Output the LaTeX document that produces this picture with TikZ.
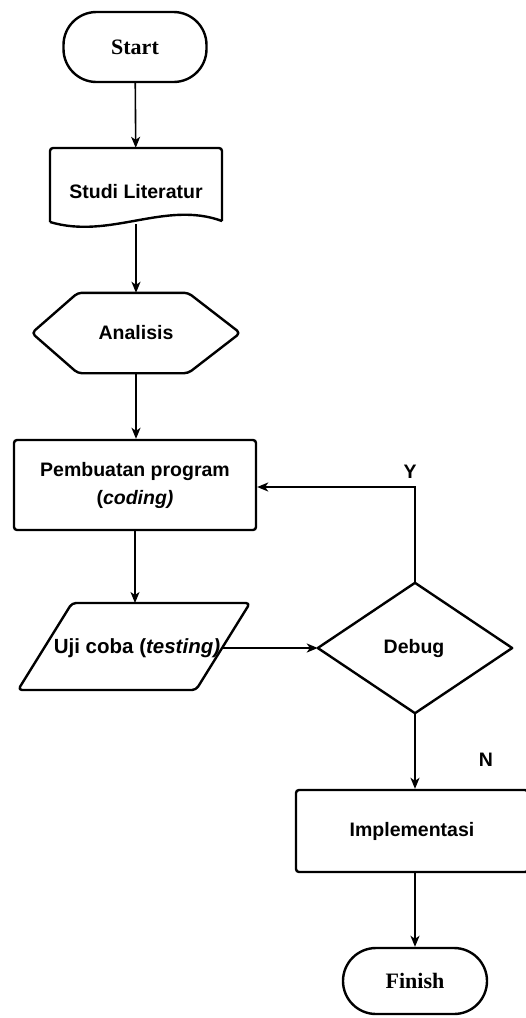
\documentclass[tikz,border=0pt]{standalone}
\usepackage{fontspec}
\setmainfont{Liberation Sans}
\newfontfamily\serifbold{Liberation Serif}
\usetikzlibrary{arrows.meta}
\begin{document}
\begin{tikzpicture}[x=1pt,y=-1pt,
  lbl/.style={font=\fontsize{19.5}{23}\selectfont\bfseries, align=center, inner sep=1pt},
  term/.style={draw, line width=2.4pt, rounded corners=33pt, font=\serifbold\fontsize{22}{24}\selectfont\bfseries, inner sep=0},
  outline/.style={line width=2.4pt, line join=round},
  box/.style={draw, line width=2.4pt, rounded corners=3pt, inner sep=0, align=center, font=\fontsize{19.5}{28}\selectfont\bfseries},
  arr/.style={line width=1.6pt, -{Stealth[length=11pt,width=9pt,inset=3pt]}}]
\useasboundingbox (0,0) rectangle (526,1018);
\fill[white] (0,0) rectangle (526,1018);

% Start
\node[term, minimum width=143pt, minimum height=70pt] (start) at (135,47) {Start};

% Studi Literatur (document shape)
\node[lbl, minimum width=172pt, minimum height=76pt] (studi) at (136,186) {};
\node[lbl] at (136,192) {Studi Literatur};
\draw[outline, rounded corners=3pt] (50,222) -- (50,148) -- (222,148) -- (222,221);
\draw[outline] (222,221) .. controls (165,200) and (110,240) .. (50,222);

% Analisis (hexagon)
\node[lbl, minimum width=208pt, minimum height=80pt] (ana) at (136,333) {Analisis};
\draw[outline, rounded corners=4pt] (ana.west) -- ([xshift=46pt]ana.north west) -- ([xshift=-52pt]ana.north east) -- (ana.east) -- ([xshift=-52pt]ana.south east) -- ([xshift=46pt]ana.south west) -- cycle;

% Pembuatan program
\node[box, minimum width=242pt, minimum height=90pt] (pemb) at (135,485) {Pembuatan program\\(\textit{coding)}};

% Uji coba (parallelogram)
\draw[outline, rounded corners=4pt] (18,690) -- (72,603) -- (250,603) -- (196,690) -- cycle;
\node[lbl, font=\fontsize{20.5}{23}\selectfont\bfseries] (uji) at (137,648) {Uji coba (\textit{testing)}};

% Debug (diamond)
\node[lbl, minimum width=194pt, minimum height=130pt] (debug) at (415,648) {};
\draw[outline] (debug.west) -- (debug.north) -- (debug.east) -- (debug.south) -- cycle;
\node[lbl] at (414,648) {Debug};

% Implementasi
\node[box, minimum width=232pt, minimum height=82pt] (impl) at (412,831) {Implementasi};

% Finish
\node[term, minimum width=144pt, minimum height=66pt] (finish) at (415,981) {Finish};

% connectors
\coordinate (ycorner) at (415,487);
\draw[arr] (start) -- (studi);
\draw[arr] (studi.south) -- (ana.north);
\draw[arr] (ana.south) -- (ana.south |- pemb.north);
\draw[arr] (pemb.south) -- (pemb.south |- 0,603);
\draw[arr] (uji.east) -- (uji.east -| debug.west);
\draw[arr] (debug.north) -- (ycorner) -- (ycorner -| pemb.east);
\draw[arr] (debug.south) -- (debug.south |- impl.north);
\draw[arr] (finish.north |- impl.south) -- (finish.north);

% labels
\node[lbl] (ylab) at (410,472) {Y};
\node[lbl] (nlab) at (486,760) {N};
\end{tikzpicture}
\end{document}
